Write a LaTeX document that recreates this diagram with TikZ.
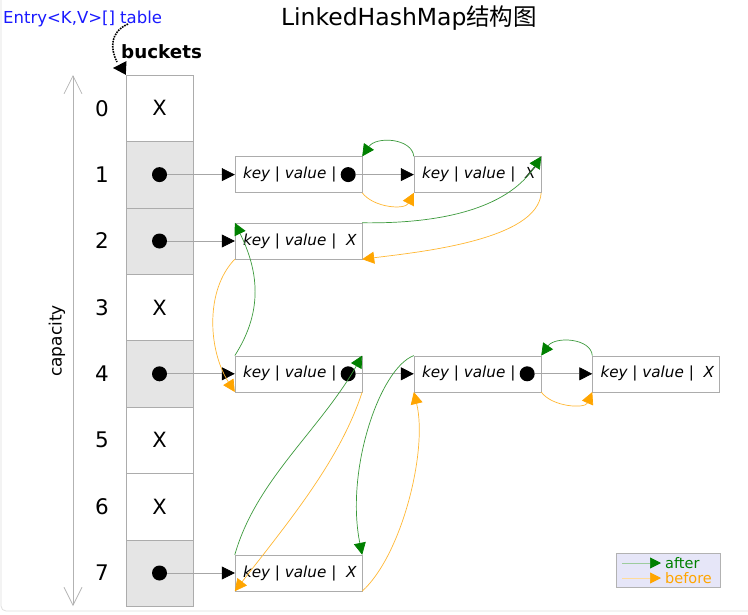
\documentclass[tikz,border=0pt]{standalone}
\usepackage{fontspec}
\setmainfont{DejaVu Sans}
\newfontfamily\cjk{Noto Sans CJK SC}
\usetikzlibrary{arrows.meta}
\definecolor{grn}{HTML}{008000}
\definecolor{grnline}{HTML}{3C9A3C}
\definecolor{org}{HTML}{FFA500}
\definecolor{orgline}{HTML}{FFB833}
\definecolor{tblblue}{HTML}{1A1AFF}
\definecolor{legbg}{HTML}{E6E6F8}
\tikzset{
  cell/.style={draw=gray!65, minimum width=67pt, minimum height=66.4pt, inner sep=0pt,
    font=\fontsize{21}{24}\selectfont},
  used/.style={cell, fill=gray!20},
  idx/.style={font=\fontsize{21.5}{24}\selectfont, inner sep=0pt},
  entrybox/.style={draw=gray!65, minimum width=127pt, minimum height=36pt, inner sep=0pt},
  kv/.style={font=\fontsize{15.2}{17}\selectfont\itshape, anchor=west, inner sep=0pt},
  dot/.style={circle, fill=black, minimum size=15pt, inner sep=0pt},
  ptr/.style={draw=gray!70, line width=0.7pt, -{Triangle[length=13pt,width=13pt,black]}},
  afterln/.style={draw=grnline, line width=0.7pt, -{Triangle[length=12pt,width=12pt,grn]}},
  beforeln/.style={draw=orgline, line width=0.7pt, -{Triangle[length=12pt,width=12pt,org]}},
  capline/.style={draw=gray!60, line width=0.7pt,
    {Straight Barb[length=18pt,width=18pt]}-{Straight Barb[length=18pt,width=18pt]}},
}
\begin{document}
\begin{tikzpicture}[x=1pt,y=-1pt]
\useasboundingbox (0,0) rectangle (748,614);
\fill[white] (0,0) rectangle (748,614);
% faint page frame
\draw[gray!25, line width=0.8pt, rounded corners=5pt] (1,0) -- (1,611) -- (748,611);

% titles
\node[font=\fontsize{23.5}{27}\selectfont, inner sep=0pt] (title) at (409,18) {LinkedHashMap{\cjk 结构图}};
\node[font=\fontsize{16.5}{19}\selectfont, text=tblblue, anchor=west, inner sep=0pt] (tbl) at (3,19) {Entry<K,V>[] table};
\node[font=\fontsize{18.3}{21}\selectfont\bfseries, anchor=west, inner sep=0pt] (bkt) at (121,52) {buckets};

% bucket array
\node[cell] (b0) at (159.5,108.2) {X};
\node[used] (b1) at (159.5,174.6) {};
\node[used] (b2) at (159.5,241.0) {};
\node[cell] (b3) at (159.5,307.4) {X};
\node[used] (b4) at (159.5,373.8) {};
\node[cell] (b5) at (159.5,440.2) {X};
\node[cell] (b6) at (159.5,506.6) {X};
\node[used] (b7) at (159.5,573.0) {};
\node[dot] (d1) at (b1) {};
\node[dot] (d2) at (b2) {};
\node[dot] (d4) at (b4) {};
\node[dot] (d7) at (b7) {};

% table reference
\coordinate (tblpt) at (128,24);
\coordinate (tblend) at (114,68);
\draw[densely dotted, line width=1.6pt] (tblpt) .. controls (110,32) and (110,48) .. (117,62);
\fill[black] (b0.north west) -- (126.5,61) -- (113,68) -- cycle;

% indices and capacity
\node[idx] (i0) at (102,108.2) {0};
\node[idx] (i1) at (102,174.6) {1};
\node[idx] (i2) at (102,241.0) {2};
\node[idx] (i3) at (102,307.4) {3};
\node[idx] (i4) at (102,373.8) {4};
\node[idx] (i5) at (102,440.2) {5};
\node[idx] (i6) at (102,506.6) {6};
\node[idx] (i7) at (102,573.0) {7};
\coordinate (captop) at (73,75);
\coordinate (capbot) at (73,606);
\draw[capline] (capbot) -- (captop);
\node[rotate=90, font=\fontsize{17}{20}\selectfont, inner sep=0pt] (cap) at (57,341) {capacity};

% entries
\node[entrybox] (e1a) at (298.5,174.6) {};
\node[entrybox] (e1b) at (477.5,174.6) {};
\node[entrybox] (e2a) at (298.5,241.0) {};
\node[entrybox] (e4a) at (298.5,373.8) {};
\node[entrybox] (e4b) at (477.5,373.8) {};
\node[entrybox] (e4c) at (656.0,373.8) {};
\node[entrybox] (e7a) at (298.5,573.0) {};

\node[kv] (t1a) at ([xshift=8pt]e1a.west) {key | value |};
\node[kv] (t1b) at ([xshift=8pt]e1b.west) {key | value |\ \ X};
\node[kv] (t2a) at ([xshift=8pt]e2a.west) {key | value |\ \ X};
\node[kv] (t4a) at ([xshift=8pt]e4a.west) {key | value |};
\node[kv] (t4b) at ([xshift=8pt]e4b.west) {key | value |};
\node[kv] (t4c) at ([xshift=8pt]e4c.west) {key | value |\ \ X};
\node[kv] (t7a) at ([xshift=8pt]e7a.west) {key | value |\ \ X};

\node[dot] (p1a) at ([xshift=-14pt]e1a.east) {};
\node[dot] (p4a) at ([xshift=-14pt]e4a.east) {};
\node[dot] (p4b) at ([xshift=-14pt]e4b.east) {};

% bucket and next pointers
\draw[ptr] (d1) -- (e1a.west);
\draw[ptr] (d2) -- (e2a.west);
\draw[ptr] (d4) -- (e4a.west);
\draw[ptr] (d7) -- (e7a.west);
\draw[ptr] (p1a) -- (e1b.west);
\draw[ptr] (p4a) -- (e4b.west);
\draw[ptr] (p4b) -- (e4c.west);

% after links
\draw[afterln] (e1b.north west) .. controls (412,138) and (376,136) .. (e1a.north east);
\draw[afterln] (e2a.north east) .. controls (450,224) and (510,205) .. (e1b.north east);
\draw[afterln] (e4a.north west) .. controls (264,310) and (258,270) .. (e2a.north west);
\draw[afterln] (e7a.north west) .. controls (256,480) and (320,430) .. (e4a.north east);
\draw[afterln] (e4b.north west) .. controls (380,368) and (345,470) .. (e7a.north east);
\draw[afterln] (e4c.north west) .. controls (591,338) and (555,336) .. (e4b.north east);

% before links
\draw[beforeln] (e1a.south east) .. controls (374,208) and (405,210) .. (e1b.south west);
\draw[beforeln] (e1b.south east) .. controls (538,240) and (420,252) .. (e2a.south east);
\draw[beforeln] (e2a.south west) .. controls (205,290) and (208,350) .. (e4a.south west);
\draw[beforeln] (e4a.south east) .. controls (340,460) and (290,520) .. (e7a.south west);
\draw[beforeln] (e7a.south east) .. controls (402,555) and (428,450) .. (e4b.south west);
\draw[beforeln] (e4b.south east) .. controls (552,407) and (585,409) .. (e4c.south west);

% legend
\node[draw=gray!60, fill=legbg, minimum width=104pt, minimum height=34pt, inner sep=0pt] (leg) at (668,570) {};
\coordinate (la1) at (622,563);
\coordinate (la2) at (661,563);
\coordinate (lb1) at (622,578);
\coordinate (lb2) at (661,578);
\draw[draw=grnline!50, line width=0.7pt, -{Triangle[length=11pt,width=11pt,grn]}] (la1) -- (la2);
\draw[draw=orgline!50, line width=0.7pt, -{Triangle[length=11pt,width=11pt,org]}] (lb1) -- (lb2);
\node[anchor=west, text=grn, font=\fontsize{14.5}{16}\selectfont, inner sep=0pt] (lafter) at (665,563.5) {after};
\node[anchor=west, text=org, font=\fontsize{14.5}{16}\selectfont, inner sep=0pt] (lbefore) at (665,578.5) {before};
\end{tikzpicture}
\end{document}
